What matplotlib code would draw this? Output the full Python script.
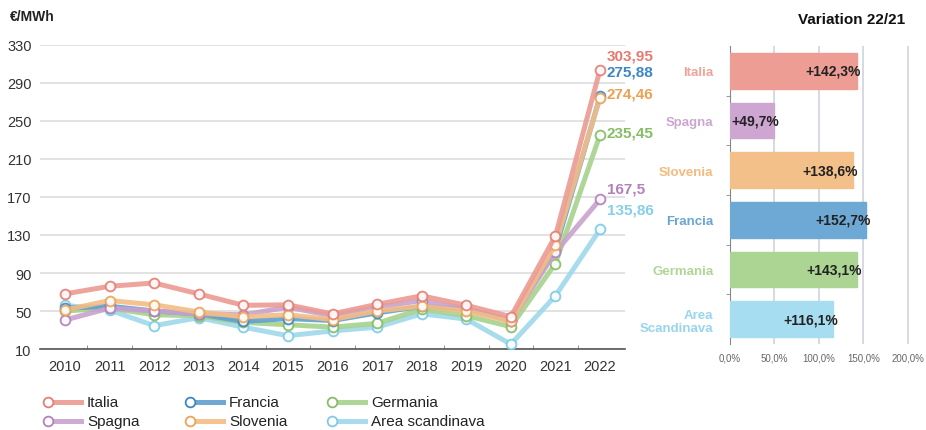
import matplotlib.pyplot as plt
from matplotlib.lines import Line2D

plt.rcParams['font.family'] = ['Liberation Sans', 'DejaVu Sans']

# PUN / day-ahead prices, €/MWh
years = list(range(2010, 2023))
countries = ['Italia', 'Francia', 'Germania', 'Spagna', 'Slovenia', 'Area scandinava']
italia = [68, 76, 79.5, 68, 56, 56.5, 47, 57, 66, 56, 44, 129, 303.95]
francia = [53, 55, 50, 47, 39, 42, 40, 48, 55, 52, 40, 115, 275.88]
germania = [50, 53, 46, 45, 38, 35.5, 33, 37, 52, 45, 33.5, 100, 235.45]
spagna = [40.5, 53, 50, 47, 46, 54, 45, 54, 61, 52, 40, 112, 167.5]
slovenia = [51, 61, 56.5, 49, 44, 46, 41, 50, 55, 50, 39, 120, 274.46]
scandinava = [56, 51, 34.5, 43, 33, 24, 29, 33, 47, 41.5, 15, 66, 135.86]
final_labels = ['303,95', '275,88', '235,45', '167,5', '274,46', '135,86']

# variation 2022 vs 2021, %
var_names = ['Italia', 'Spagna', 'Slovenia', 'Francia', 'Germania', 'Area\nScandinava']
var_values = [142.3, 49.7, 138.6, 152.7, 143.1, 116.1]
var_labels = ['+142,3%', '+49,7%', '+138,6%', '+152,7%', '+143,1%', '+116,1%']
var_ticks = [0, 50, 100, 150, 200]
var_ticklabels = ['0,0%', '50,0%', '100,0%', '150,0%', '200,0%']

series = [italia, francia, germania, spagna, slovenia, scandinava]
line_col = ['#ec9a92', '#5f9fcf', '#a5d28b', '#c9a2cd', '#f3bd85', '#9fd9ec']
edge_col = ['#e57f74', '#3d86c4', '#86bd66', '#b480bd', '#eba45a', '#7fcbe6']
text_col = ['#e57a6f', '#3b86c6', '#84bd63', '#b47fbd', '#eba052', '#86cfe8']
label_dy = [10, 18, 2, 8, 3, 14]
zorders = [8, 5, 4, 6, 7, 3]

W, H = 926, 431
fig = plt.figure(figsize=(W / 100, H / 100), dpi=100)


def fx(x):
    return x / W


def fy(y):
    return 1 - y / H


# ---- line chart ----
ax = fig.add_axes([fx(40), fy(350), fx(625) - fx(40), fy(46) - fy(350)])
for i, vals in enumerate(series):
    ax.plot(years, vals, color=line_col[i], lw=3.6, alpha=0.9, solid_capstyle='round',
            marker='o', ms=7, mfc='white', mec=edge_col[i], mew=1.4, zorder=zorders[i])
    ax.annotate(final_labels[i], (years[-1], vals[-1]), xytext=(5, label_dy[i]),
                textcoords='offset points', color=text_col[i], fontsize=11,
                fontweight='semibold', va='center', ha='left', annotation_clip=False)

ax.set_xlim(2009.44, 2022.56)
ax.set_ylim(10, 330)
ax.set_yticks(range(10, 331, 40))
ax.set_xticks(years)
ax.set_xticks([y + 0.5 for y in years[:-1]], minor=True)
ax.grid(axis='y', color='#dddddd', lw=1.2)
ax.set_axisbelow(True)
for s in ['top', 'right', 'left']:
    ax.spines[s].set_visible(False)
ax.spines['bottom'].set_color('#555555')
ax.spines['bottom'].set_linewidth(1.2)
ax.tick_params(axis='y', length=0, labelsize=10.5, labelcolor='#333333', pad=6)
ax.tick_params(axis='x', which='major', length=0, labelsize=10.5, labelcolor='#333333', pad=7)
ax.tick_params(axis='x', which='minor', direction='in', length=3, color='#777777')

fig.text(fx(10), fy(17), '€/MWh', fontsize=10, fontweight='bold', va='center', color='#222222')

# legend, drawn by hand: marker on the left end of a short line
leg_x = [48, 190, 332]
leg_y = [403, 422]
for i in range(len(countries)):
    x0 = leg_x[i % 3]
    y0 = leg_y[i // 3]
    fig.add_artist(Line2D([fx(x0), fx(x0 + 33)], [fy(y0), fy(y0)], color=line_col[i], lw=3.6,
                          alpha=0.9))
    fig.add_artist(Line2D([fx(x0)], [fy(y0)], marker='o', ms=7, mfc='white',
                          mec=edge_col[i], mew=1.3))
    fig.text(fx(x0 + 39), fy(y0), countries[i], fontsize=11, va='center', color='#222222')

# ---- variation bars ----
bar_col = ['#ee9d95', '#cda7d2', '#f3c089', '#6ea8d5', '#acd593', '#a7ddf0']
lab_col = ['#f0a39b', '#cba6d0', '#f2bb80', '#6aa5d3', '#b0d697', '#98d5ed']

bx = fig.add_axes([fx(730), fy(345), fx(915) - fx(730), fy(47) - fy(345)])
pos = list(range(len(var_values)))
bx.barh(pos, var_values, height=0.72, color=bar_col, edgecolor=bar_col, zorder=3)
for p, v, t in zip(pos, var_values, var_labels):
    bx.text(v + 5, p, t, ha='right', va='center', fontsize=10, fontweight='bold',
            color='#222222', zorder=4)
bx.set_ylim(len(pos) - 0.5, -0.5)
bx.set_xlim(0, 208)
bx.set_yticks(pos)
bx.set_yticklabels(var_names, fontsize=9.5, fontweight='bold', linespacing=1.1)
for tl, c in zip(bx.get_yticklabels(), lab_col):
    tl.set_color(c)
bx.set_yticks([p + 0.5 for p in pos[:-1]], minor=True)
bx.tick_params(axis='y', which='major', length=0, pad=12)
bx.tick_params(axis='y', which='minor', length=3, color='#888888')
bx.set_xticks(var_ticks)
bx.set_xticklabels(var_ticklabels)
bx.tick_params(axis='x', length=0, labelsize=7, labelcolor='#666666', pad=6)
bx.grid(axis='x', color='#cfd3dc', lw=1.2, zorder=0)
for s in ['top', 'right', 'bottom']:
    bx.spines[s].set_visible(False)
bx.spines['left'].set_color('#888888')

fig.text(fx(905), fy(20), 'Variation 22/21', fontsize=11, fontweight='bold', ha='right',
         va='center', color='#111111')

fig.savefig('out.png', dpi=100)
